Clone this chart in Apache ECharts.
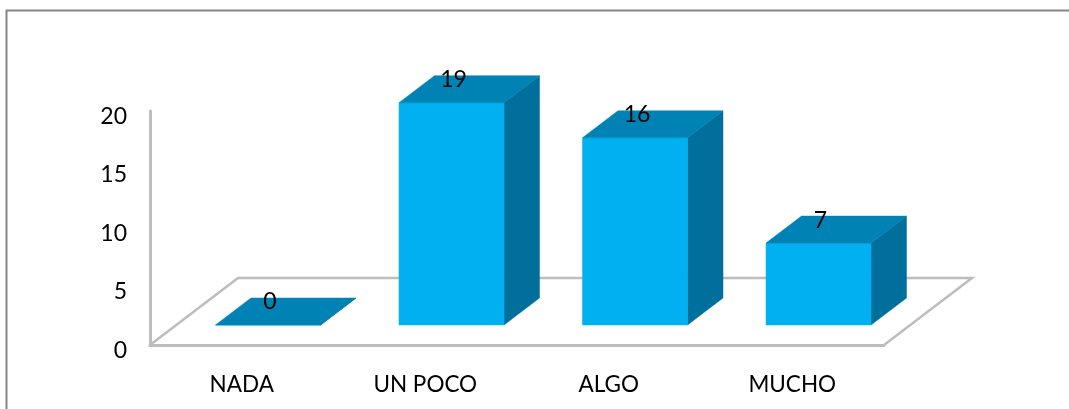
<!DOCTYPE html>
<html><head><meta charset="utf-8">
<style>html,body{margin:0;padding:0;background:#fff;overflow:hidden}#c{width:1069px;height:409px}</style>
<script src="https://cdn.jsdelivr.net/npm/echarts@6/dist/echarts.min.js"></script>
</head><body><div id="c"></div>
<script>
const categories = ['NADA', 'UN POCO', 'ALGO', 'MUCHO'];
const values = [0, 19, 16, 7];
const yTicks = [0, 5, 10, 15, 20];

const FONT = 'Lato, Carlito, sans-serif';
const FRONT = '#00B0F0', TOP = '#0083B4', SIDE = '#006F9B', GREY = '#BDBDBD';
// floor perspective, as a share of the plot
const floorDx = 88, floorDy = 67, barWidthShare = 105 / 183.5;
const baseShare = 20 / 67, depthShare = 27 / 67;

const chart = echarts.init(document.getElementById('c'), null, {renderer: 'canvas'});
chart.setOption({
  animation: false,
  backgroundColor: '#fff',
  graphic: [{type: 'polyline', silent: true, z: 0,
    shape: {points: [[6.5, 420], [6.5, 10.5], [1080, 10.5]]},
    style: {stroke: '#868686', lineWidth: 2, fill: null}}],
  grid: {left: 150, top: 111, width: 734, height: 234, containLabel: false},
  xAxis: {type: 'category', data: categories, boundaryGap: true,
    axisLine: {show: true, lineStyle: {color: GREY, width: 3}}, axisTick: {show: false},
    axisLabel: {color: '#000', fontFamily: FONT, fontSize: 22.5, margin: 28, interval: 0}},
  yAxis: {type: 'value', min: 0, max: 20, interval: 5,
    axisLine: {show: true, lineStyle: {color: GREY, width: 3}}, axisTick: {show: false},
    splitLine: {show: false},
    axisLabel: {color: '#000', fontFamily: FONT, fontSize: 23, margin: 23, verticalAlign: 'top', lineHeight: 11,
      formatter: v => yTicks.includes(v) ? String(v) : ''}},
  series: [
    {type: 'custom', silent: true, z: 1, data: [0], clip: false,
      renderItem(params) {
        const c = params.coordSys, x0 = c.x, y0 = c.y + c.height, x1 = c.x + c.width;
        return {type: 'polyline', shape: {points: [
            [x0, y0], [x0 + floorDx, y0 - floorDy], [x1 + floorDx, y0 - floorDy], [x1, y0]]},
          style: {stroke: GREY, lineWidth: 2.5, fill: null}};
      }},
    {type: 'custom', silent: true, z: 3, clip: false,
      data: values.map((v, i) => [i, v]),
      encode: {x: 0, y: 1},
      renderItem(params, api) {
        const p = api.coord([api.value(0), api.value(1)]);
        const band = api.size([1, 0])[0];
        const w = band * barWidthShare;
        const bx = baseShare * floorDx, by = baseShare * floorDy;
        const dx = depthShare * floorDx, dy = depthShare * floorDy;
        const l = p[0] + bx - w / 2, r = l + w, t = p[1] - by;
        const b = params.coordSys.y + params.coordSys.height - by;
        const poly = (pts, fill) => ({type: 'polygon', shape: {points: pts},
          style: {fill, stroke: fill, lineWidth: 0.5}});
        return {type: 'group', children: [
          poly([[r, t], [r + dx, t - dy], [r + dx, b - dy], [r, b]], SIDE),
          poly([[l, b], [r, b], [r, t], [l, t]], FRONT),
          poly([[l, t], [l + dx, t - dy], [r + dx, t - dy], [r, t]], TOP),
          {type: 'text', style: {text: String(api.value(1)), x: (l + r) / 2 + 2, y: t - 23,
            fill: '#000', font: '23px ' + FONT, textAlign: 'center', textVerticalAlign: 'middle'}}
        ]};
      }}
  ]
});
</script></body></html>
